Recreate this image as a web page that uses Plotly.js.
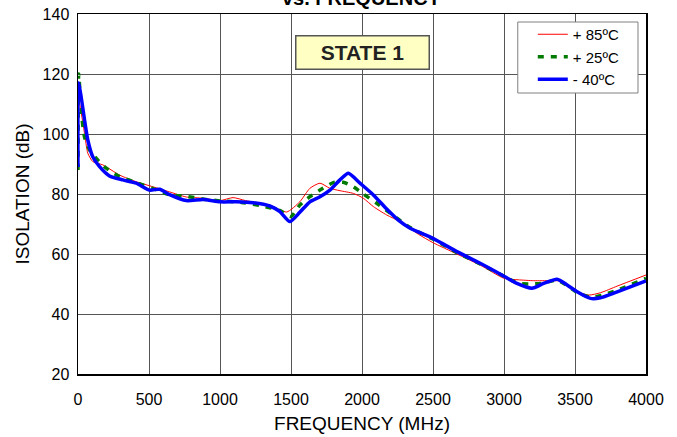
<!DOCTYPE html>
<html>
<head>
<meta charset="utf-8">
<script src="https://cdn.plot.ly/plotly-3.0.1.min.js"></script>
<style>html,body{margin:0;padding:0;background:#fff;}#chart{width:677px;height:437px;}</style>
</head>
<body>
<div id="chart"></div>
<script>
// +85ºC
const freqHot = [0, 6, 46, 69, 104, 175, 293, 410, 528, 645, 763, 881, 1000, 1092, 1180, 1351, 1469, 1562, 1633, 1704, 1774, 1845, 1939, 2009, 2080, 2174, 2268, 2400, 2499, 2668, 2832, 3000, 3100, 3209, 3326, 3397, 3467, 3538, 3597, 3680, 3797, 4000];
const isoHot  = [92, 111, 100.2, 93.6, 90.8, 89.7, 86.3, 84.1, 82.4, 80.7, 79, 78.6, 77.8, 78.8, 77.8, 76.3, 74, 77.4, 81.9, 83.6, 81.9, 81.1, 80.2, 78.6, 75.8, 73, 70.8, 66.5, 63.8, 60, 56.3, 51.9, 51.4, 51.1, 51.1, 51, 49.1, 47.1, 46.3, 47.1, 49.3, 53];
// +25ºC
const freqRoom = [0, 5, 22, 46, 81, 140, 199, 293, 410, 528, 645, 750, 900, 1000, 1150, 1300, 1420, 1500, 1562, 1633, 1704, 1798, 1868, 1939, 2009, 2104, 2198, 2256, 2339, 2499, 2668, 2832, 3000, 3100, 3182, 3260, 3374, 3444, 3520, 3620, 3700, 3800, 4000];
const isoRoom  = [88, 120, 108, 99, 94.7, 91.3, 88.6, 85.8, 83.8, 81.8, 79.7, 79.3, 78.2, 77.7, 77.2, 76, 74.5, 72.5, 76.3, 79.1, 81.3, 83.8, 83.9, 82.4, 80, 76.9, 73.6, 71.6, 68.8, 65, 60.5, 56.7, 52.6, 50.2, 50, 50.2, 51.2, 49.5, 47, 45.6, 46.4, 48, 51.9];
// -40ºC
const freqCold = [0, 4, 22, 46, 69, 104, 152, 222, 316, 410, 504, 575, 645, 763, 881, 1000, 1116, 1233, 1351, 1422, 1492, 1562, 1633, 1704, 1774, 1845, 1904, 1986, 2080, 2174, 2256, 2339, 2499, 2668, 2832, 3000, 3091, 3197, 3279, 3374, 3444, 3515, 3609, 3679, 3797, 4000];
const isoCold  = [89, 117, 112.4, 104.7, 98, 92.4, 89.1, 86, 84.7, 83.6, 81.3, 81.6, 79.8, 77.8, 78.2, 77.4, 77.4, 77.1, 76, 74.1, 70.8, 73.9, 77.4, 79.1, 81.3, 84.7, 86.9, 83.6, 79.7, 75, 71.3, 68.6, 65.2, 60.8, 56.9, 52.6, 50.2, 48.6, 50.2, 51.6, 49.7, 47.4, 45.2, 45.4, 47.4, 51];

const seriesNames = ['+ 85ºC', '+ 25ºC', '- 40ºC'];
const xTicks = [0, 500, 1000, 1500, 2000, 2500, 3000, 3500, 4000];
const yTicks = [20, 40, 60, 80, 100, 120, 140];
const chartTitle = 'ISOLATION<br>vs. FREQUENCY';
const stateLabel = 'STATE 1';

const FONT = 'Arial, "Liberation Sans", sans-serif';

const traces = [
  {x: freqHot, y: isoHot, name: seriesNames[0], mode: 'lines', legendgroup: 'a',
   line: {color: '#ff0000', width: 1, shape: 'spline', smoothing: 0.6}},
  {x: freqRoom, y: isoRoom, name: seriesNames[1], mode: 'lines', legendgroup: 'b',
   line: {color: '#007a00', width: 3.5, dash: '6px,7px', shape: 'spline', smoothing: 0.6}},
  {x: freqCold, y: isoCold, name: seriesNames[2], mode: 'lines', legendgroup: 'c',
   line: {color: '#0000ff', width: 3.5, shape: 'spline', smoothing: 0.6}}
];

const layout = {
  width: 677, height: 437,
  margin: {l: 78, r: 31, t: 14, b: 63},
  paper_bgcolor: '#ffffff', plot_bgcolor: '#ffffff',
  font: {family: FONT, color: '#000', size: 16},
  showlegend: true,
  legend: {x: (542 - 78 - 10) / 567, y: (374 - 18) / 360, xanchor: 'left', yanchor: 'top',
    bgcolor: 'rgba(0,0,0,0)', borderwidth: 0,
    font: {family: FONT, size: 15, color: '#000'}, tracegroupgap: 0, itemwidth: 30},
  xaxis: {range: [0, 4000], tickvals: xTicks, ticktext: xTicks.map(String),
    showgrid: true, gridcolor: '#555', gridwidth: 1, zeroline: false,
    showline: true, linecolor: '#000', linewidth: 1.5, mirror: true,
    ticks: 'outside', ticklen: 10, tickcolor: 'rgba(0,0,0,0)',
    tickfont: {family: FONT, size: 16},
    title: {text: 'FREQUENCY (MHz)', font: {family: FONT, size: 19}, standoff: 10}},
  yaxis: {range: [20, 140], tickvals: yTicks, ticktext: yTicks.map(String),
    showgrid: true, gridcolor: '#555', gridwidth: 1, zeroline: false,
    showline: true, linecolor: '#000', linewidth: 1.5, mirror: true,
    ticks: 'outside', ticklen: 4, tickcolor: 'rgba(0,0,0,0)',
    tickfont: {family: FONT, size: 16},
    title: {text: 'ISOLATION (dB)', font: {family: FONT, size: 19}, standoff: 8}},
  shapes: [
    {type: 'rect', xref: 'paper', yref: 'paper', layer: 'above',
     x0: (517 - 78) / 567, x1: (637 - 78) / 567,
     y0: (374 - 93) / 360, y1: (374 - 22) / 360,
     fillcolor: '#ffffff', line: {color: '#808080', width: 1}}
  ],
  annotations: [
    {text: '<b>' + chartTitle + '</b>', xref: 'paper', yref: 'paper', x: 0.5, y: 1.0,
     yshift: 3, xanchor: 'center', yanchor: 'bottom', showarrow: false,
     font: {family: FONT, size: 20, color: '#000'}},
    {text: '<b>' + stateLabel + '</b>', xref: 'x', yref: 'y', x: 2000, y: 127.2,
     showarrow: false, xanchor: 'center', yanchor: 'middle',
     width: 130, height: 30, bgcolor: '#ffffc4', bordercolor: '#555', borderwidth: 1.5,
     font: {family: FONT, size: 21, color: '#222'}}
  ]
};

Plotly.newPlot('chart', traces, layout, {staticPlot: true, displayModeBar: false});
</script>
</body>
</html>
